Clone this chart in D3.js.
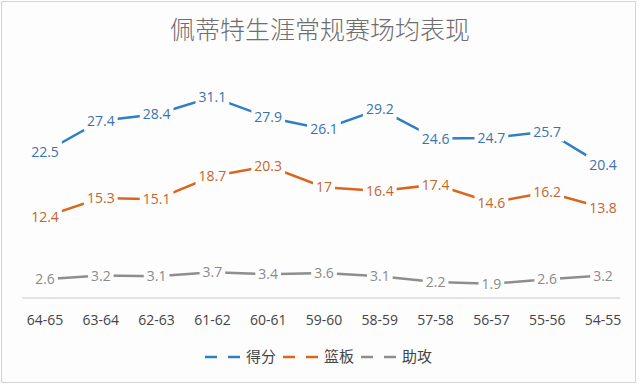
<!DOCTYPE html>
<html>
<head>
<meta charset="utf-8">
<script src="https://cdn.jsdelivr.net/npm/d3@7"></script>
<style>
  body { margin: 0; background: #fff; }
  svg { display: block; }
</style>
</head>
<body>
<div id="chart"></div>
<script>
var seasons = ["64-65", "63-64", "62-63", "61-62", "60-61", "59-60", "58-59", "57-58", "56-57", "55-56", "54-55"];
var points = [22.5, 27.4, 28.4, 31.1, 27.9, 26.1, 29.2, 24.6, 24.7, 25.7, 20.4];
var rebounds = [12.4, 15.3, 15.1, 18.7, 20.3, 17, 16.4, 17.4, 14.6, 16.2, 13.8];
var assists = [2.6, 3.2, 3.1, 3.7, 3.4, 3.6, 3.1, 2.2, 1.9, 2.6, 3.2];
var seriesNames = ["得分", "篮板", "助攻"];

var width = 640, height = 385, bg = "#fefdfe";

var series = [
  {name: seriesNames[0], values: points, line: "#2f7fc4", text: "#3a72ae"},
  {name: seriesNames[1], values: rebounds, line: "#d9661c", text: "#c4652b"},
  {name: seriesNames[2], values: assists, line: "#8e8e8e", text: "#8a8a8a"}
];

var svg = d3.select("#chart").append("svg")
  .attr("width", width)
  .attr("height", height);

svg.append("rect")
  .attr("x", 1.5).attr("y", 1.5)
  .attr("width", 634).attr("height", 381)
  .attr("fill", bg)
  .attr("stroke", "#d4d4d4");

svg.append("text")
  .attr("x", 320).attr("y", 39)
  .attr("text-anchor", "middle")
  .attr("font-family", "Noto Sans CJK SC")
  .attr("font-weight", 300)
  .attr("font-size", 25)
  .attr("fill", "#6e6e6e")
  .text("佩蒂特生涯常规赛场均表现");

var x = d3.scalePoint()
  .domain(seasons)
  .range([45, 603]);

var y = d3.scaleLinear()
  .domain([0, 35])
  .range([296, 72]);

// baseline
svg.append("line")
  .attr("x1", 22).attr("x2", 620)
  .attr("y1", 298).attr("y2", 298)
  .attr("stroke", "#d9d9d9")
  .attr("stroke-width", 1.5);

svg.append("g").selectAll("text")
  .data(seasons)
  .enter().append("text")
  .attr("x", function(d) { return x(d); })
  .attr("y", 325)
  .attr("text-anchor", "middle")
  .attr("font-family", "Open Sans")
  .attr("font-size", 14)
  .attr("fill", "#444")
  .text(function(d) { return d; });

var line = d3.line()
  .x(function(d, i) { return x(seasons[i]); })
  .y(function(d) { return y(d); });

series.forEach(function(s) {
  var g = svg.append("g");
  g.append("path")
    .attr("d", line(s.values))
    .attr("fill", "none")
    .attr("stroke", s.line)
    .attr("stroke-width", 2.5);

  var lab = g.selectAll("g.lab")
    .data(s.values)
    .enter().append("g")
    .attr("transform", function(d, i) { return "translate(" + x(seasons[i]) + "," + y(d) + ")"; });

  lab.append("text")
    .attr("text-anchor", "middle")
    .attr("dy", "0.36em")
    .attr("font-family", "Open Sans")
    .attr("font-size", 14)
    .attr("fill", s.text)
    .text(function(d) { return d; })
    .each(function() {
      var b = this.getBBox();
      d3.select(this.parentNode).insert("rect", "text")
        .attr("x", b.x - 3).attr("y", b.y - 1)
        .attr("width", b.width + 6).attr("height", b.height + 2)
        .attr("fill", bg);
    });
});

// legend
var legend = svg.append("g").attr("transform", "translate(205,357)");
var lx = [0, 78, 156];
series.forEach(function(s, i) {
  var g = legend.append("g").attr("transform", "translate(" + lx[i] + ",0)");
  g.append("line").attr("x1", 0).attr("x2", 12).attr("y1", 0).attr("y2", 0)
    .attr("stroke", s.line).attr("stroke-width", 2.5);
  g.append("line").attr("x1", 23).attr("x2", 35).attr("y1", 0).attr("y2", 0)
    .attr("stroke", s.line).attr("stroke-width", 2.5);
  g.append("text")
    .attr("x", 41).attr("dy", "0.36em")
    .attr("font-family", "Noto Sans CJK SC")
    .attr("font-size", 15)
    .attr("fill", "#444")
    .text(s.name);
});
</script>
</body>
</html>
